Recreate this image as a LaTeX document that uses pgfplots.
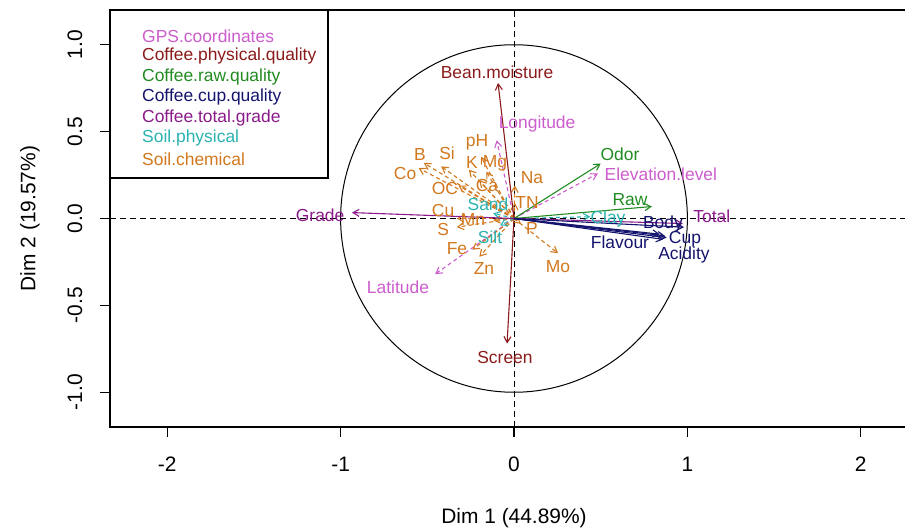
\documentclass[border=0pt]{standalone}
\usepackage{fontspec}
\setmainfont{Liberation Sans}
\usepackage{pgfplots}
\pgfplotsset{compat=1.18}
\usetikzlibrary{arrows.meta}
\definecolor{gps}{HTML}{CC5DCC}
\definecolor{phys}{HTML}{8B1A1A}
\definecolor{raw}{HTML}{228B22}
\definecolor{cup}{HTML}{14146E}
\definecolor{tot}{HTML}{8B1A8B}
\definecolor{sphys}{HTML}{2AB3B0}
\definecolor{schem}{HTML}{D2781E}
\newcommand{\arr}[3]{\addplot[#1] coordinates {(0,0) (#2,#3)};}
\tikzset{
  solarr/.style={line width=1.1bp, -{Straight Barb[length=6bp,width=7bp]}},
  dasharr/.style={line width=1.1bp, dash pattern=on 4bp off 3bp, -{Straight Barb[length=6bp,width=7bp]}},
}
\pgfplotsset{
  lbl/.style={draw=none, mark=none, nodes near coords, point meta=explicit symbolic,
    nodes near coords style={anchor=center, inner sep=0pt, text=#1, font=\fontsize{17.5}{19}\selectfont}},
}
\begin{document}
\begin{tikzpicture}
\begin{axis}[
  name=ax,
  at={(110bp,105bp)}, anchor=south west,
  scale only axis, width=808bp, height=417bp,
  xmin=-2.33, xmax=2.33, ymin=-1.2, ymax=1.2,
  axis line style={line width=1.2bp},
  tick style={line width=1.2bp, black},
  tick align=outside, major tick length=10bp,
  xtick pos=bottom, ytick pos=left,
  xtick={-2,-1,0,1,2}, xticklabels={-2,-1,0,1,2},
  ytick={-1,-0.5,0,0.5,1}, yticklabels={-1.0,-0.5,0.0,0.5,1.0},
  ticklabel style={font=\fontsize{21}{24}\selectfont},
  xticklabel style={anchor=center, yshift=-27bp},
  yticklabel style={rotate=90, anchor=center, yshift=25bp},
  xlabel={Dim 1 (44.89\%)}, ylabel={Dim 2 (19.57\%)},
  label style={font=\fontsize{21}{24}\selectfont},
  xlabel style={at={(axis description cs:0.5,0)}, anchor=center, yshift=-91bp},
  ylabel style={at={(axis description cs:0,0.5)}, anchor=center, yshift=80bp},
]
\draw[line width=1bp, dash pattern=on 6bp off 4bp] (axis cs:-2.33,0) -- (axis cs:2.33,0);
\draw[line width=1bp, dash pattern=on 6bp off 4bp] (axis cs:0,-1.2) -- (axis cs:0,1.2);
\draw[line width=1bp] (axis cs:0,0) ellipse [x radius=1, y radius=1];
% GPS coordinates
\arr{gps, dasharr}{-0.10}{0.45}
\arr{gps, dasharr}{-0.455}{-0.32}
\arr{gps, dasharr}{0.484}{0.259}
% Soil chemical
\arr{schem, dasharr}{-0.19}{0.356}
\arr{schem, dasharr}{-0.52}{0.32}
\arr{schem, dasharr}{-0.55}{0.29}
\arr{schem, dasharr}{-0.42}{0.30}
\arr{schem, dasharr}{-0.26}{0.28}
\arr{schem, dasharr}{-0.16}{0.27}
\arr{schem, dasharr}{-0.32}{0.19}
\arr{schem, dasharr}{-0.20}{0.22}
\arr{schem, dasharr}{0.005}{0.19}
\arr{schem, dasharr}{0.005}{0.09}
\arr{schem, dasharr}{-0.33}{0.0}
\arr{schem, dasharr}{-0.12}{-0.01}
\arr{schem, dasharr}{-0.33}{-0.05}
\arr{schem, dasharr}{-0.24}{-0.18}
\arr{schem, dasharr}{-0.20}{-0.22}
\arr{schem, dasharr}{0.04}{-0.03}
\arr{schem, dasharr}{0.254}{-0.20}
% Soil physical
\arr{sphys, dasharr}{-0.12}{0.03}
\arr{sphys, dasharr}{-0.08}{-0.04}
\arr{sphys, dasharr}{0.44}{0.01}
% Coffee physical
\arr{phys, solarr}{-0.092}{0.78}
\arr{phys, solarr}{-0.04}{-0.72}
% Coffee raw
\arr{raw, solarr}{0.50}{0.316}
\arr{raw, solarr}{0.795}{0.069}
% Coffee total
\arr{tot, solarr}{-0.934}{0.034}
\arr{tot, solarr}{0.974}{-0.029}
% Coffee cup
\arr{cup, solarr}{0.84}{-0.09}
\arr{cup, solarr}{0.98}{-0.05}
\arr{cup, solarr}{0.87}{-0.10}
\arr{cup, solarr}{0.88}{-0.11}
\arr{cup, solarr}{0.86}{-0.12}
% labels
\addplot[lbl=gps] table[meta=label] {
x y label
0.133 0.546 Longitude
-0.669 -0.397 Latitude
0.847 0.253 Elevation.level
};
\addplot[lbl=phys] table[meta=label] {
x y label
-0.098 0.839 Bean.moisture
-0.052 -0.80 Screen
};
\addplot[lbl=raw] table[meta=label] {
x y label
0.611 0.368 Odor
0.669 0.109 Raw
};
\addplot[lbl=cup] table[meta=label] {
x y label
0.611 -0.138 Flavour
0.859 -0.030 Body
0.986 -0.118 Cup
0.98 -0.210 Acidity
};
\addplot[lbl=tot] table[meta=label] {
x y label
-1.118 0.017 Grade
1.141 0.011 Total
};
\addplot[lbl=sphys] table[meta=label] {
x y label
-0.150 0.082 Sand
-0.138 -0.109 Silt
0.542 0.0 Clay
};
\addplot[lbl=schem] table[meta=label] {
x y label
-0.213 0.437 pH
-0.542 0.368 B
-0.628 0.259 Co
-0.386 0.374 Si
-0.242 0.322 K
-0.11 0.316 Mg
-0.398 0.172 OC
-0.156 0.188 Ca
0.104 0.236 Na
0.075 0.092 TN
-0.409 0.046 Cu
-0.236 -0.006 Mn
-0.409 -0.063 S
-0.329 -0.172 Fe
-0.173 -0.287 Zn
0.104 -0.057 P
0.254 -0.276 Mo
};
\end{axis}
% legend box
\draw[line width=1.2bp, fill=white] (110bp,522bp) rectangle (328bp,354bp);
\begin{scope}[every node/.style={anchor=west, inner sep=0pt, font=\fontsize{17.5}{19}\selectfont}]
\node[text=gps]   at (142bp,496bp) {GPS.coordinates};
\node[text=phys]  at (142bp,476bp) {Coffee.physical.quality};
\node[text=raw]   at (142bp,455bp) {Coffee.raw.quality};
\node[text=cup]   at (142bp,435bp) {Coffee.cup.quality};
\node[text=tot]   at (142bp,414bp) {Coffee.total.grade};
\node[text=sphys] at (142bp,394bp) {Soil.physical};
\node[text=schem] at (142bp,373bp) {Soil.chemical};
\end{scope}
\pgfresetboundingbox
\useasboundingbox (0,0) rectangle (905bp,532bp);
\end{tikzpicture}
\end{document}
